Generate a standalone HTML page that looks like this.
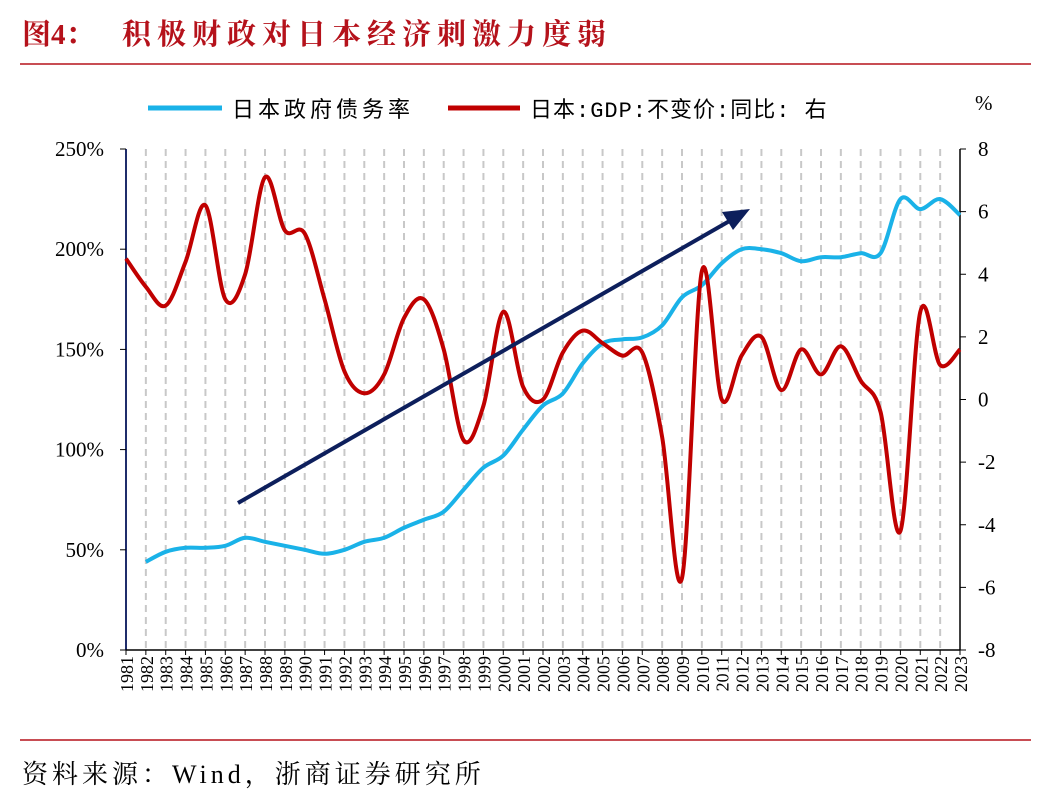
<!DOCTYPE html>
<html><head><meta charset="utf-8"><style>
body{margin:0;background:#fff;width:1039px;height:803px;overflow:hidden;font-family:"Liberation Serif","Noto Serif CJK SC",serif}
</style></head><body>
<svg id="c" width="1039" height="803" xmlns="http://www.w3.org/2000/svg">
<text x="22" y="44" font-size="29" fill="#b5121b" font-weight="bold" font-family="Liberation Serif, Noto Serif CJK SC, serif"><tspan>图4：</tspan><tspan x="122" letter-spacing="6">积极财政对日本经济刺激力度弱</tspan></text>
<line x1="20" y1="64" x2="1031" y2="64" stroke="#b5121b" stroke-width="1.5"/>
<line x1="20" y1="740" x2="1031" y2="740" stroke="#b5121b" stroke-width="1.5"/>
<text x="22" y="783" font-size="26" letter-spacing="4" fill="#000" font-family="Liberation Serif, Noto Serif CJK SC, serif">资料来源：Wind，浙商证券研究所</text>
<g>
<line x1="148" y1="108" x2="222" y2="108" stroke="#1ab2e8" stroke-width="5"/>
<text x="232" y="117" font-size="22" letter-spacing="4" font-family="Liberation Sans, Noto Sans CJK SC, sans-serif">日本政府债务率</text>
<line x1="448" y1="108" x2="520" y2="108" stroke="#c00000" stroke-width="5"/>
<text x="530" y="117" font-size="22" letter-spacing="1" font-family="Liberation Mono, Noto Sans CJK SC, monospace">日本:GDP:不变价:同比: 右</text>
</g>
<text x="975" y="110" font-size="21">%</text>
<g id="grid"></g><g id="axes"></g><g id="series"></g>
<g>
<line x1="238" y1="503" x2="733" y2="219" stroke="#0d1f5c" stroke-width="4"/>
<polygon points="750,209 722,212 733,230" fill="#0d1f5c"/>
</g>
</svg>
<script>
const years=[];for(let y=1981;y<=2023;y++)years.push(String(y));
const debt=[null,44,49,51,51,52,56,54,52,50,48,50,54,56,61,65,69,80,91,97,110,122,128,143,153,155,156,162,176,182,193,200,200,198,194,196,196,198,198,225,220,225,217];
const gdp=[4.5,3.6,3.0,4.4,6.2,3.2,4.0,7.1,5.4,5.3,3.2,0.9,0.2,0.8,2.6,3.2,1.6,-1.3,-0.2,2.8,0.4,0.0,1.5,2.2,1.8,1.4,1.5,-1.2,-5.7,4.1,0.0,1.4,2.0,0.3,1.6,0.8,1.7,0.6,-0.4,-4.2,2.8,1.1,1.6];
const leftTicks=[0,50,100,150,200,250];
const rightTicks=[-8,-6,-4,-2,0,2,4,6,8];
const X0=126,X1=960,Y0=650,Y1=149;
const x=i=>X0+(X1-X0)*i/(years.length-1);
const yl=v=>Y0-(Y0-Y1)*v/250;
const yr=v=>Y0-(Y0-Y1)*(v+8)/16;
const NS="http://www.w3.org/2000/svg";
function mk(t,a,p){const e=document.createElementNS(NS,t);for(const k in a)e.setAttribute(k,a[k]);p.appendChild(e);return e;}
const grid=document.getElementById('grid'),axes=document.getElementById('axes'),ser=document.getElementById('series');
years.forEach((yv,i)=>{
 if(i>0&&i<years.length-1){const g=mk('line',{x1:x(i),x2:x(i),y1:Y1,y2:Y0,stroke:'#c8c8c8','stroke-width':2,'stroke-dasharray':'7,5'},grid);
 
 }
 const t=mk('text',{transform:`translate(${x(i)+7},656) rotate(-90)`,'text-anchor':'end','font-size':18},axes);t.textContent=yv;
 
 
 mk('line',{x1:x(i),x2:x(i),y1:Y0,y2:Y0+5,stroke:'#000'},axes);
});
const la=mk('line',{x1:X0,x2:X0,y1:Y1,y2:Y0,stroke:'#1f2d6b','stroke-width':2},axes);


const ra=mk('line',{x1:X1,x2:X1,y1:Y1,y2:Y0,stroke:'#000','stroke-width':1.5},axes);


const xa=mk('line',{x1:X0,x2:X1,y1:Y0,y2:Y0,stroke:'#000','stroke-width':1.5},axes);


leftTicks.forEach(v=>{mk('line',{x1:X0-6,x2:X0,y1:yl(v),y2:yl(v),stroke:'#000'},axes);
 const t=mk('text',{x:104,y:yl(v)+7,'text-anchor':'end','font-size':21},axes);t.textContent=v+'%';
 
 });
rightTicks.forEach(v=>{mk('line',{x1:X1,x2:X1+6,y1:yr(v),y2:yr(v),stroke:'#000'},axes);
 const t=mk('text',{x:978,y:yr(v)+7,'font-size':21},axes);t.textContent=v;
 
 });
function spline(pts){let d=`M${pts[0][0]},${pts[0][1]}`;
 for(let i=0;i<pts.length-1;i++){const p0=pts[i-1]||pts[i],p1=pts[i],p2=pts[i+1],p3=pts[i+2]||p2;
 d+=` C${p1[0]+(p2[0]-p0[0])/6},${p1[1]+(p2[1]-p0[1])/6} ${p2[0]-(p3[0]-p1[0])/6},${p2[1]-(p3[1]-p1[1])/6} ${p2[0]},${p2[1]}`;}return d;}
const dp=[];debt.forEach((v,i)=>{if(v!=null)dp.push([x(i),yl(v)]);});
const d1=mk('path',{d:spline(dp),fill:'none',stroke:'#1ab2e8','stroke-width':4},ser);


const d2=mk('path',{d:spline(gdp.map((v,i)=>[x(i),yr(v)])),fill:'none',stroke:'#c00000','stroke-width':4},ser);


</script>
</body></html>
